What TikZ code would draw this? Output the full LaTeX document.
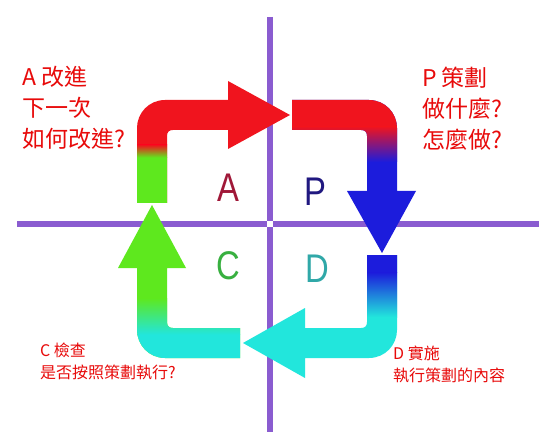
\documentclass[tikz,border=0pt]{standalone}
\usepackage{fontspec}
\setmainfont{Noto Sans CJK TC}
\newfontfamily\letterfont{Liberation Sans}

\definecolor{axispurple}{HTML}{8A5CD0}
\definecolor{notered}{HTML}{E80A0A}
\definecolor{cred}{HTML}{F0141E}
\definecolor{cgreen}{HTML}{5EE81E}
\definecolor{cblue}{HTML}{1C1CDC}
\definecolor{ccyan}{HTML}{22E6DC}
\definecolor{letA}{HTML}{A01838}
\definecolor{letP}{HTML}{201880}
\definecolor{letC}{HTML}{38B040}
\definecolor{letD}{HTML}{30A8A8}

\begin{document}
\begin{tikzpicture}[x=1pt, y=-1pt,
  ax/.style={axispurple, line width=6pt},
  note/.style={text=notered, align=left, inner sep=0pt, anchor=north west},
  big/.style={font=\fontsize{23}{31}\selectfont},
  small/.style={font=\fontsize{16}{22}\selectfont},
  letter/.style={font=\letterfont\fontsize{40}{40}\selectfont, inner sep=0pt, xscale=0.82}]
	\useasboundingbox[fill=white] (0,0) rectangle (552,441);

	% axes
	\coordinate (top) at (270,17);
	\coordinate (bottom) at (270,432);
	\coordinate (left) at (17,224);
	\coordinate (right) at (539,224);
	\draw[ax] (top) -- (bottom);
	\draw[ax] (left) -- (right);
	\fill[white] (267,221) rectangle (273,227);

	% arrow A
	\def\arrA{(137,203) -- (137,128) .. controls (137,113) and (149,100) .. (165,100) -- (228,100) -- (228,81) -- (290,115) -- (228,149) -- (228,130) -- (173,130) .. controls (169,130) and (167,132) .. (167,136) -- (167,203) -- cycle}
	\fill[cred] \arrA;
	\begin{scope}
		\clip \arrA;
		\fill[cgreen] (130,157) rectangle (175,210);
		\shade[top color=cred, bottom color=cgreen] (130,145) rectangle (175,157.5);
	\end{scope}

	% arrow P
	\def\arrP{(292,100) -- (369,100) .. controls (385,100) and (397,113) .. (397,128) -- (397,191) -- (416,191) -- (382,253) -- (347,191) -- (367,191) -- (367,136) .. controls (367,132) and (365,130) .. (361,130) -- (292,130) -- cycle}
	\fill[cblue] \arrP;
	\begin{scope}
		\clip \arrP;
		\fill[cred] (285,95) rectangle (420,127);
		\shade[top color=cred, bottom color=cblue] (285,126.5) rectangle (420,162);
	\end{scope}

	% arrow D
	\def\arrD{(367,255) -- (397,255) -- (397,330) .. controls (397,345) and (385,358) .. (369,358) -- (305,358) -- (305,378) -- (243,343) -- (305,308) -- (305,328) -- (361,328) .. controls (365,328) and (367,326) .. (367,322) -- cycle}
	\fill[ccyan] \arrD;
	\begin{scope}
		\clip \arrD;
		\fill[cblue] (360,250) rectangle (405,273);
		\shade[top color=cblue, bottom color=ccyan] (360,272.5) rectangle (405,317);
	\end{scope}

	% arrow C
	\def\arrC{(240,328) -- (240,358) -- (165,358) .. controls (149,358) and (137,345) .. (137,330) -- (137,268) -- (118,268) -- (152,205) -- (186,268) -- (167,268) -- (167,322) .. controls (167,326) and (169,328) .. (173,328) -- cycle}
	\fill[cgreen] \arrC;
	\begin{scope}
		\clip \arrC;
		\fill[ccyan] (130,334) rectangle (245,365);
		\shade[top color=cgreen, bottom color=ccyan] (130,298) rectangle (245,334.5);
	\end{scope}

	% quadrant letters
	\node[letter, text=letA] (la) at (228,188) {A};
	\node[letter, text=letP] (lp) at (315,192) {P};
	\node[letter, text=letC] (lc) at (228,266) {C};
	\node[letter, text=letD] (ld) at (317,269) {D};

	% notes
	\node[note, big] (noteA) at (22,66) {A 改進\\下一次\\如何改進?};
	\node[note, big] (noteP) at (422,67) {P 策劃\\做什麼?\\怎麼做?};
	\node[note, small] (noteC) at (40,343) {C 檢查\\是否按照策劃執行?};
	\node[note, small] (noteD) at (393,346) {D 實施\\執行策劃的內容};
\end{tikzpicture}
\end{document}
